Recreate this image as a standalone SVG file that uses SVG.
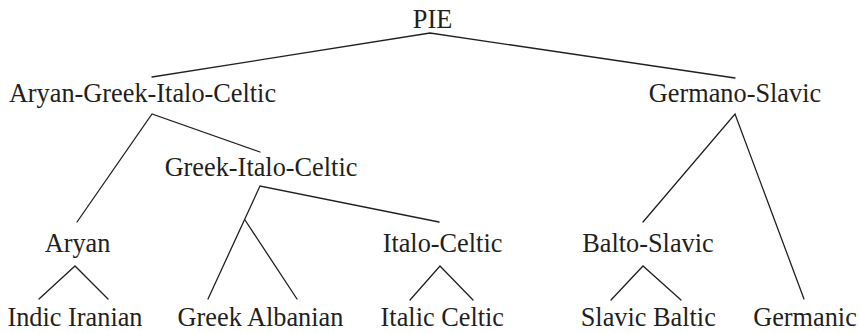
<svg xmlns="http://www.w3.org/2000/svg" width="860" height="333" viewBox="0 0 860 333">
  <style>
    .lbl { font-family: 'Liberation Serif', 'DejaVu Serif', serif; font-size: 26.3px; fill: #231f20; text-anchor: middle; }
    .edge { stroke: #231f20; stroke-width: 1.3; fill: none; stroke-linecap: round; }
  </style>
  <rect width="860" height="333" fill="#ffffff"/>
  <g id="connectors">
    <polyline class="edge" points="152,77 430,33 735,78"/>
    <polyline class="edge" points="77,222 152,114 260,152"/>
    <polyline class="edge" points="208,299 260,186 439,222"/>
    <line class="edge" x1="245" y1="220" x2="297" y2="299"/>
    <polyline class="edge" points="39,299 75,266 108,299"/>
    <polyline class="edge" points="410,300 440,266 473,300"/>
    <polyline class="edge" points="643,222 735,114 804,299"/>
    <polyline class="edge" points="611,300 643,266 681,300"/>
  </g>
  <g font-family="Liberation Serif, DejaVu Serif, serif">
  <g id="pie"><text class="lbl" x="432.5" y="28">PIE</text></g>
  <g id="agic"><text class="lbl" x="142.5" y="102">Aryan-Greek-Italo-Celtic</text></g>
  <g id="germano-slavic"><text class="lbl" x="735" y="102">Germano-Slavic</text></g>
  <g id="gic"><text class="lbl" x="261" y="176">Greek-Italo-Celtic</text></g>
  <g id="aryan"><text class="lbl" x="77.5" y="252">Aryan</text></g>
  <g id="italo-celtic"><text class="lbl" x="442.5" y="252">Italo-Celtic</text></g>
  <g id="balto-slavic"><text class="lbl" x="648" y="252">Balto-Slavic</text></g>
  <g id="indic-iranian"><text class="lbl" x="75" y="326">Indic Iranian</text></g>
  <g id="greek-albanian"><text class="lbl" x="260.5" y="326">Greek Albanian</text></g>
  <g id="italic-celtic"><text class="lbl" x="442.3" y="326">Italic Celtic</text></g>
  <g id="slavic-baltic"><text class="lbl" x="648.3" y="326">Slavic Baltic</text></g>
  <g id="germanic"><text class="lbl" x="805" y="326">Germanic</text></g>
  </g>
</svg>
